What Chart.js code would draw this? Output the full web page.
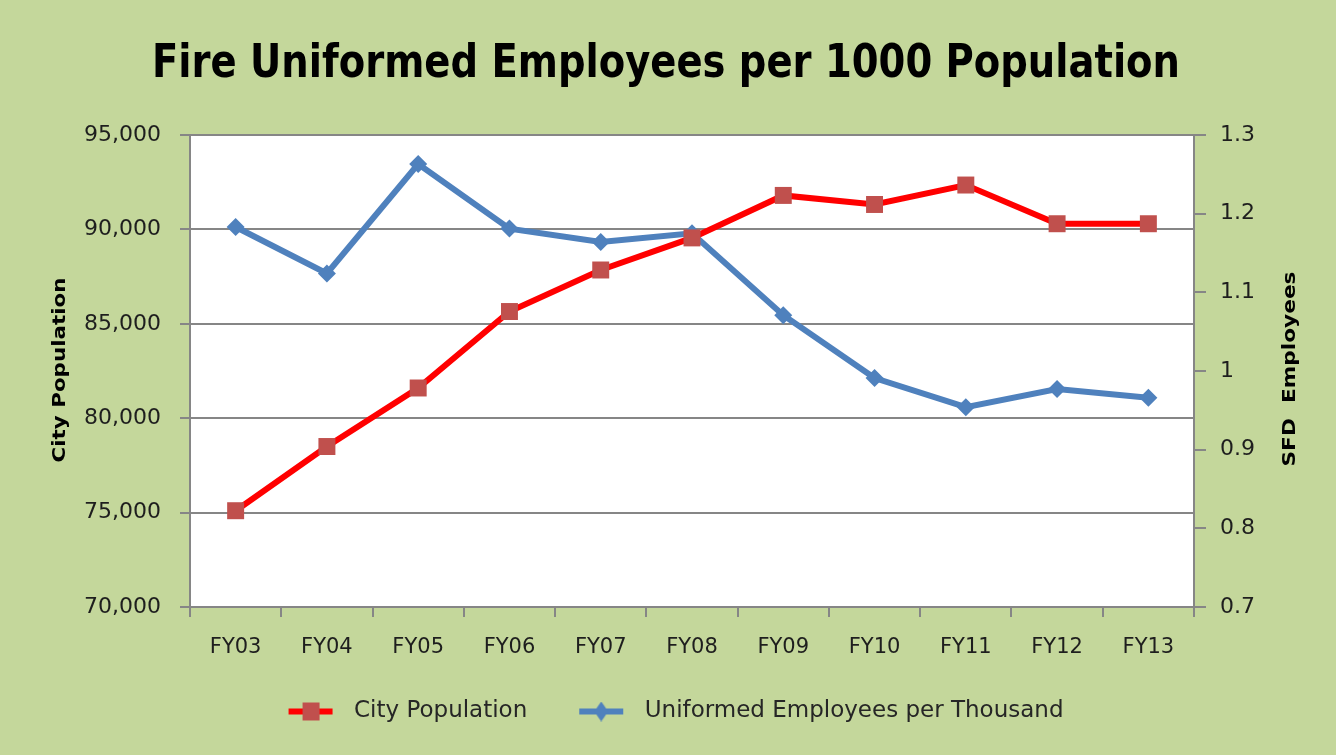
<!DOCTYPE html>
<html>
<head>
<meta charset="utf-8">
<script src="https://cdn.jsdelivr.net/npm/chart.js@4.4.1/dist/chart.umd.min.js"></script>
<style>
  html, body { margin: 0; padding: 0; background: #c4d79b; }
  #wrap { width: 1336px; height: 755px; }
</style>
</head>
<body>
<div id="wrap"><canvas id="fire-chart" width="1336" height="755"></canvas></div>
<script>
// values
const categories = ['FY03', 'FY04', 'FY05', 'FY06', 'FY07', 'FY08', 'FY09', 'FY10', 'FY11', 'FY12', 'FY13'];
const cityPopulation = [75100, 78500, 81600, 85650, 87850, 89550, 91800, 91320, 92350, 90300, 90300];
const employeesPerThousand = [1.183, 1.124, 1.263, 1.181, 1.164, 1.175, 1.071, 0.991, 0.954, 0.977, 0.966];
const populationTicks = [70000, 75000, 80000, 85000, 90000, 95000];
const employeeTicks = [0.7, 0.8, 0.9, 1.0, 1.1, 1.2, 1.3];

const RED = '#ff0000';
const RED_MARK = '#c0504d';
const BLUE = '#4f81bd';
const GRID = '#868686';
const TEXT = '#1e1e1e';
const FONT = "'DejaVu Sans', Verdana, sans-serif";

// little line+marker pictures for the legend
// (16px spare on the left = extra gap between items, 10px on the right = gap to the text)
function legendIcon(lineColor, markColor, shape) {
  const c = document.createElement('canvas');
  c.width = 70; c.height = 20;
  const ctx = c.getContext('2d');
  ctx.translate(16, 0);
  ctx.strokeStyle = lineColor;
  ctx.lineWidth = 6;
  ctx.beginPath(); ctx.moveTo(0, 10); ctx.lineTo(44, 10); ctx.stroke();
  ctx.fillStyle = markColor;
  if (shape === 'rect') {
    ctx.fillRect(14, 1, 17, 18);
  } else {
    ctx.beginPath();
    ctx.moveTo(22, 0); ctx.lineTo(29, 10); ctx.lineTo(22, 20); ctx.lineTo(15, 10);
    ctx.closePath(); ctx.fill();
  }
  return c;
}
const icons = [legendIcon(RED, RED_MARK, 'rect'), legendIcon(BLUE, BLUE, 'diamond')];

// white plot area, the title and both axis titles
const decor = {
  id: 'decor',
  beforeDraw(chart) {
    const a = chart.chartArea, ctx = chart.ctx;
    ctx.save();
    ctx.fillStyle = '#ffffff';
    ctx.fillRect(a.left, a.top, a.right - a.left, a.bottom - a.top);
    ctx.restore();
  },
  afterDraw(chart) {
    const ctx = chart.ctx;
    function fitText(txt, font, cx, cy, width, rot) {
      ctx.save();
      ctx.font = font;
      ctx.fillStyle = '#000000';
      ctx.textAlign = 'center';
      ctx.textBaseline = 'middle';
      ctx.translate(cx, cy);
      ctx.rotate(rot);
      const w = ctx.measureText(txt).width;
      ctx.scale(width / w, 1);
      ctx.fillText(txt, 0, 0);
      ctx.restore();
    }
    fitText('Fire Uniformed Employees per 1000 Population',
      "bold 46px 'Liberation Sans Narrow', 'DejaVu Sans Condensed', 'Liberation Sans', sans-serif",
      666, 65, 1028, 0);
    fitText('City Population', "bold 18px " + FONT, 60, 370, 185, -Math.PI / 2);
    fitText('SFD  Employees', "bold 18px " + FONT, 1290, 369, 195, -Math.PI / 2);
  }
};

new Chart(document.getElementById('fire-chart'), {
  type: 'line',
  data: {
    labels: categories,
    datasets: [{
      label: 'City Population',
      data: cityPopulation,
      yAxisID: 'y',
      borderColor: RED,
      borderWidth: 6,
      pointStyle: 'rect',
      pointRadius: 12,
      pointBackgroundColor: RED_MARK,
      pointBorderColor: RED_MARK,
      pointBorderWidth: 0,
      tension: 0
    }, {
      label: 'Uniformed Employees per Thousand',
      data: employeesPerThousand,
      yAxisID: 'y1',
      borderColor: BLUE,
      borderWidth: 6,
      pointStyle: 'rectRot',
      pointRadius: 9,
      pointBackgroundColor: BLUE,
      pointBorderColor: BLUE,
      pointBorderWidth: 0,
      tension: 0
    }]
  },
  options: {
    responsive: false,
    animation: false,
    layout: { padding: { top: 135, bottom: 22, left: 0, right: 0 } },
    plugins: {
      title: { display: false },
      tooltip: { enabled: false },
      legend: {
        position: 'bottom',
        labels: {
          usePointStyle: true,
          pointStyleWidth: 70,
          boxHeight: 20,
          padding: 36,
          color: '#262626',
          font: { family: FONT, size: 23 },
          generateLabels(chart) {
            const items = Chart.defaults.plugins.legend.labels.generateLabels(chart);
            items.forEach((it, i) => { it.pointStyle = icons[i]; });
            return items;
          }
        }
      }
    },
    scales: {
      x: {
        offset: true,
        grid: { offset: true, drawOnChartArea: false, tickLength: 10, color: GRID, lineWidth: 2 },
        border: { color: GRID, width: 2 },
        ticks: { color: TEXT, font: { family: FONT, size: 21 }, padding: 18, maxRotation: 0 },
        afterFit(s) { s.height = 57; }
      },
      y: {
        position: 'left',
        min: 70000,
        max: 95000,
        afterBuildTicks(s) { s.ticks = populationTicks.map(v => ({ value: v })); },
        grid: { color: GRID, lineWidth: 2, tickLength: 10 },
        border: { color: GRID, width: 2 },
        ticks: {
          color: TEXT,
          font: { family: FONT, size: 22 },
          padding: 19,
          callback: v => v.toLocaleString('en-US')
        },
        afterFit(s) { s.width = 190; }
      },
      y1: {
        position: 'right',
        min: 0.7,
        max: 1.3,
        afterBuildTicks(s) { s.ticks = employeeTicks.map(v => ({ value: v })); },
        grid: { drawOnChartArea: false, color: GRID, lineWidth: 2, tickLength: 12 },
        border: { color: GRID, width: 2 },
        ticks: {
          color: TEXT,
          font: { family: FONT, size: 22 },
          padding: 14,
          callback: v => String(Number(v.toFixed(1)))
        },
        afterFit(s) { s.width = 142; }
      }
    }
  },
  plugins: [decor]
});
</script>
</body>
</html>
